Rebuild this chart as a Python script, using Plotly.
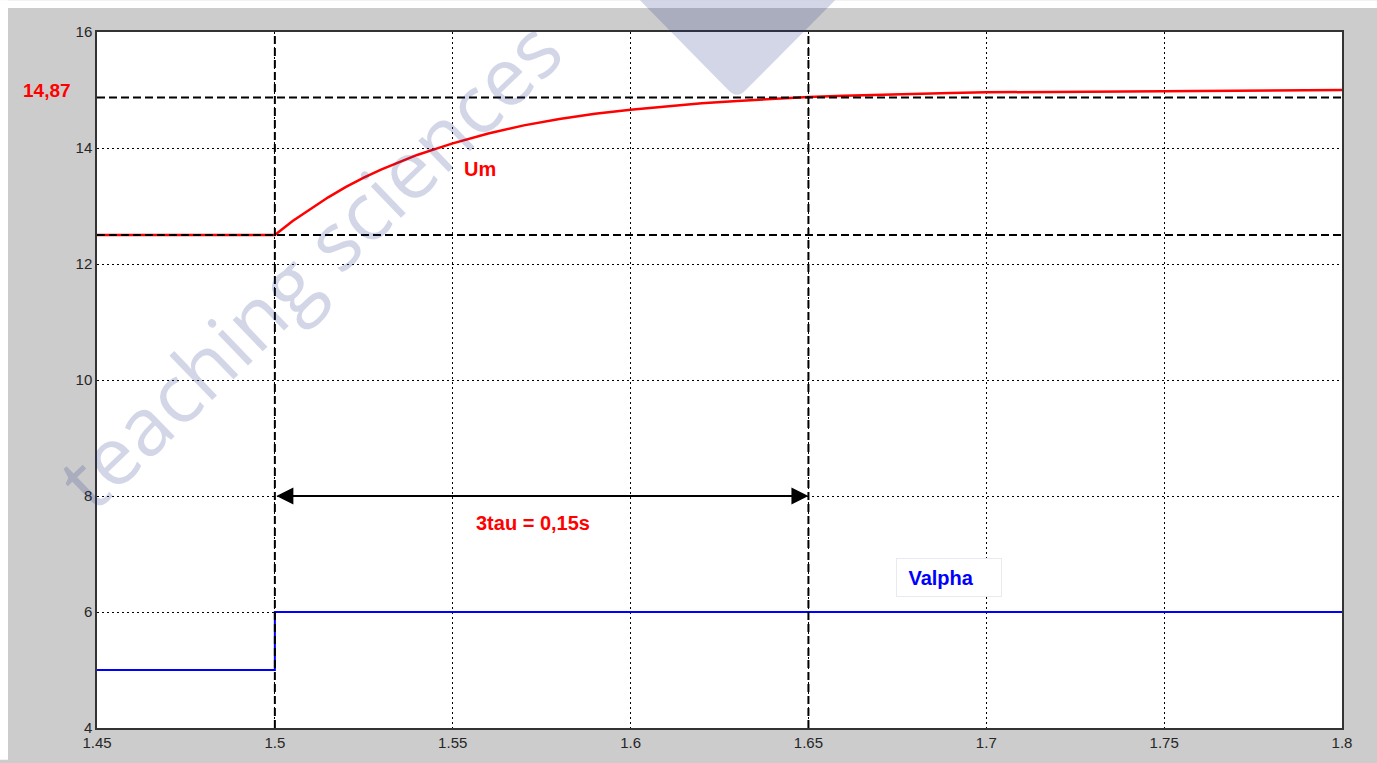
import plotly.graph_objects as go

# Motor voltage Um after a step of the control voltage Valpha (time in s)
t_um = [1.45, 1.50, 1.505, 1.51, 1.515, 1.52, 1.525, 1.53, 1.535, 1.54, 1.545,
        1.55, 1.56, 1.57, 1.58, 1.59, 1.60, 1.61, 1.62, 1.63, 1.64, 1.65,
        1.66, 1.67, 1.68, 1.69, 1.70, 1.72, 1.74, 1.76, 1.78, 1.80]
um = [12.50, 12.50, 12.74, 12.95, 13.15, 13.33, 13.49, 13.63, 13.76, 13.88, 13.98,
      14.08, 14.25, 14.39, 14.50, 14.59, 14.66, 14.72, 14.77, 14.81, 14.85, 14.88,
      14.90, 14.92, 14.93, 14.95, 14.96, 14.97, 14.98, 14.99, 15.00, 15.00]

t_valpha = [1.45, 1.50, 1.80]
valpha = [5, 6, 6]

# Construction lines: initial / 95 % levels, step instant and 3*tau instant
u_start = 12.5
u_95 = 14.87
t_step = 1.50
t_3tau = 1.65

x_ticks = [1.45, 1.5, 1.55, 1.6, 1.65, 1.7, 1.75, 1.8]
x_tick_text = ["1.45", "1.5", "1.55", "1.6", "1.65", "1.7", "1.75", "1.8"]
y_ticks = [4, 6, 8, 10, 12, 14, 16]

X_RANGE = [1.45, 1.8]
Y_RANGE = [4, 16]

W, H = 1377, 763
ML, MR, MT, MB = 97, 35, 32, 32
PW, PH = W - ML - MR, H - MT - MB


def px_x(p):
    return (p - ML) / PW


def px_y(p):
    return 1 - (p - MT) / PH


fig = go.Figure()

fig.add_trace(go.Scatter(x=t_valpha, y=valpha, mode="lines", line_shape="hv",
                         line=dict(color="#0000ff", width=2), hoverinfo="skip"))
fig.add_trace(go.Scatter(x=t_um, y=um, mode="lines",
                         line=dict(color="#ff0000", width=2.5), hoverinfo="skip"))

dash = dict(color="black", width=2, dash="8px,4px")
for level in (u_95, u_start):
    fig.add_trace(go.Scatter(x=X_RANGE, y=[level, level], mode="lines",
                             line=dash, hoverinfo="skip"))
for instant in (t_step, t_3tau):
    fig.add_trace(go.Scatter(x=[instant, instant], y=Y_RANGE, mode="lines",
                             line=dash, hoverinfo="skip"))

label_font = dict(family="Liberation Sans", size=20, color="#ff0000")
centered = dict(xanchor="center", yanchor="middle", showarrow=False)

annotations = [
    # double arrow spanning 3*tau
    dict(x=t_3tau, y=8, ax=t_step, ay=8, xref="x", yref="y", axref="x", ayref="y",
         text="", showarrow=True, arrowside="end+start", arrowhead=2,
         arrowsize=1.7, arrowwidth=2, arrowcolor="black"),
    dict(x=1.5725, y=7.53, xref="x", yref="y", text="<b>3tau = 0,15s</b>",
         font=label_font, **centered),
    dict(x=1.5577, y=13.64, xref="x", yref="y", text="<b>Um</b>",
         font=label_font, **centered),
    dict(x=1.6895, y=6.60, xref="x", yref="y",
         text="<b>Valpha</b>&nbsp;&nbsp;&nbsp;",
         font=dict(family="Liberation Sans", size=20, color="#0000ff"),
         bgcolor="white", bordercolor="#e8eaf0", borderwidth=1, borderpad=1,
         width=102, height=35, align="center", **centered),
    dict(x=px_x(47), y=u_95, xref="paper", yref="y", yshift=7,
         text="<b>14,87</b>",
         font=dict(family="Liberation Sans", size=19, color="#ff0000"), **centered),
    # watermark
    dict(x=px_x(308), y=px_y(264), xref="paper", yref="paper",
         text="teaching sciences", textangle=-44,
         font=dict(family="Open Sans", size=81, color="rgba(30,50,130,0.2)"),
         **centered),
]

shapes = [
    # thin white border on the top and left of the figure
    dict(type="rect", xref="paper", yref="paper", x0=px_x(0), x1=px_x(W),
         y0=px_y(8), y1=px_y(0), fillcolor="white", line_width=0, layer="above"),
    dict(type="rect", xref="paper", yref="paper", x0=px_x(0), x1=px_x(8),
         y0=px_y(H), y1=px_y(0), fillcolor="white", line_width=0, layer="above"),
    # watermark triangle
    dict(type="path", xref="paper", yref="paper", layer="above",
         path=(f"M {px_x(640)},{px_y(0)} L {px_x(835)},{px_y(0)} "
               f"L {px_x(746)},{px_y(90)} Q {px_x(737)},{px_y(100)} {px_x(728)},{px_y(90)} Z"),
         fillcolor="rgba(30,50,130,0.2)", line_width=0),
]

axis_common = dict(showline=True, mirror=True, linecolor="#333333", linewidth=1.5,
                   showgrid=True, gridcolor="black", gridwidth=1, griddash="2px,3px",
                   zeroline=False, ticks="", fixedrange=True,
                   tickfont=dict(family="Liberation Sans", size=15, color="#262626"))

fig.update_layout(
    width=W, height=H,
    margin=dict(l=ML, r=MR, t=MT, b=MB),
    paper_bgcolor="#cccccc", plot_bgcolor="white",
    showlegend=False,
    xaxis=dict(range=X_RANGE, tickvals=x_ticks, ticktext=x_tick_text, **axis_common),
    yaxis=dict(range=Y_RANGE, tickvals=y_ticks, **axis_common),
    annotations=annotations,
    shapes=shapes,
)

fig.write_html("out.html", config={"displayModeBar": False})
